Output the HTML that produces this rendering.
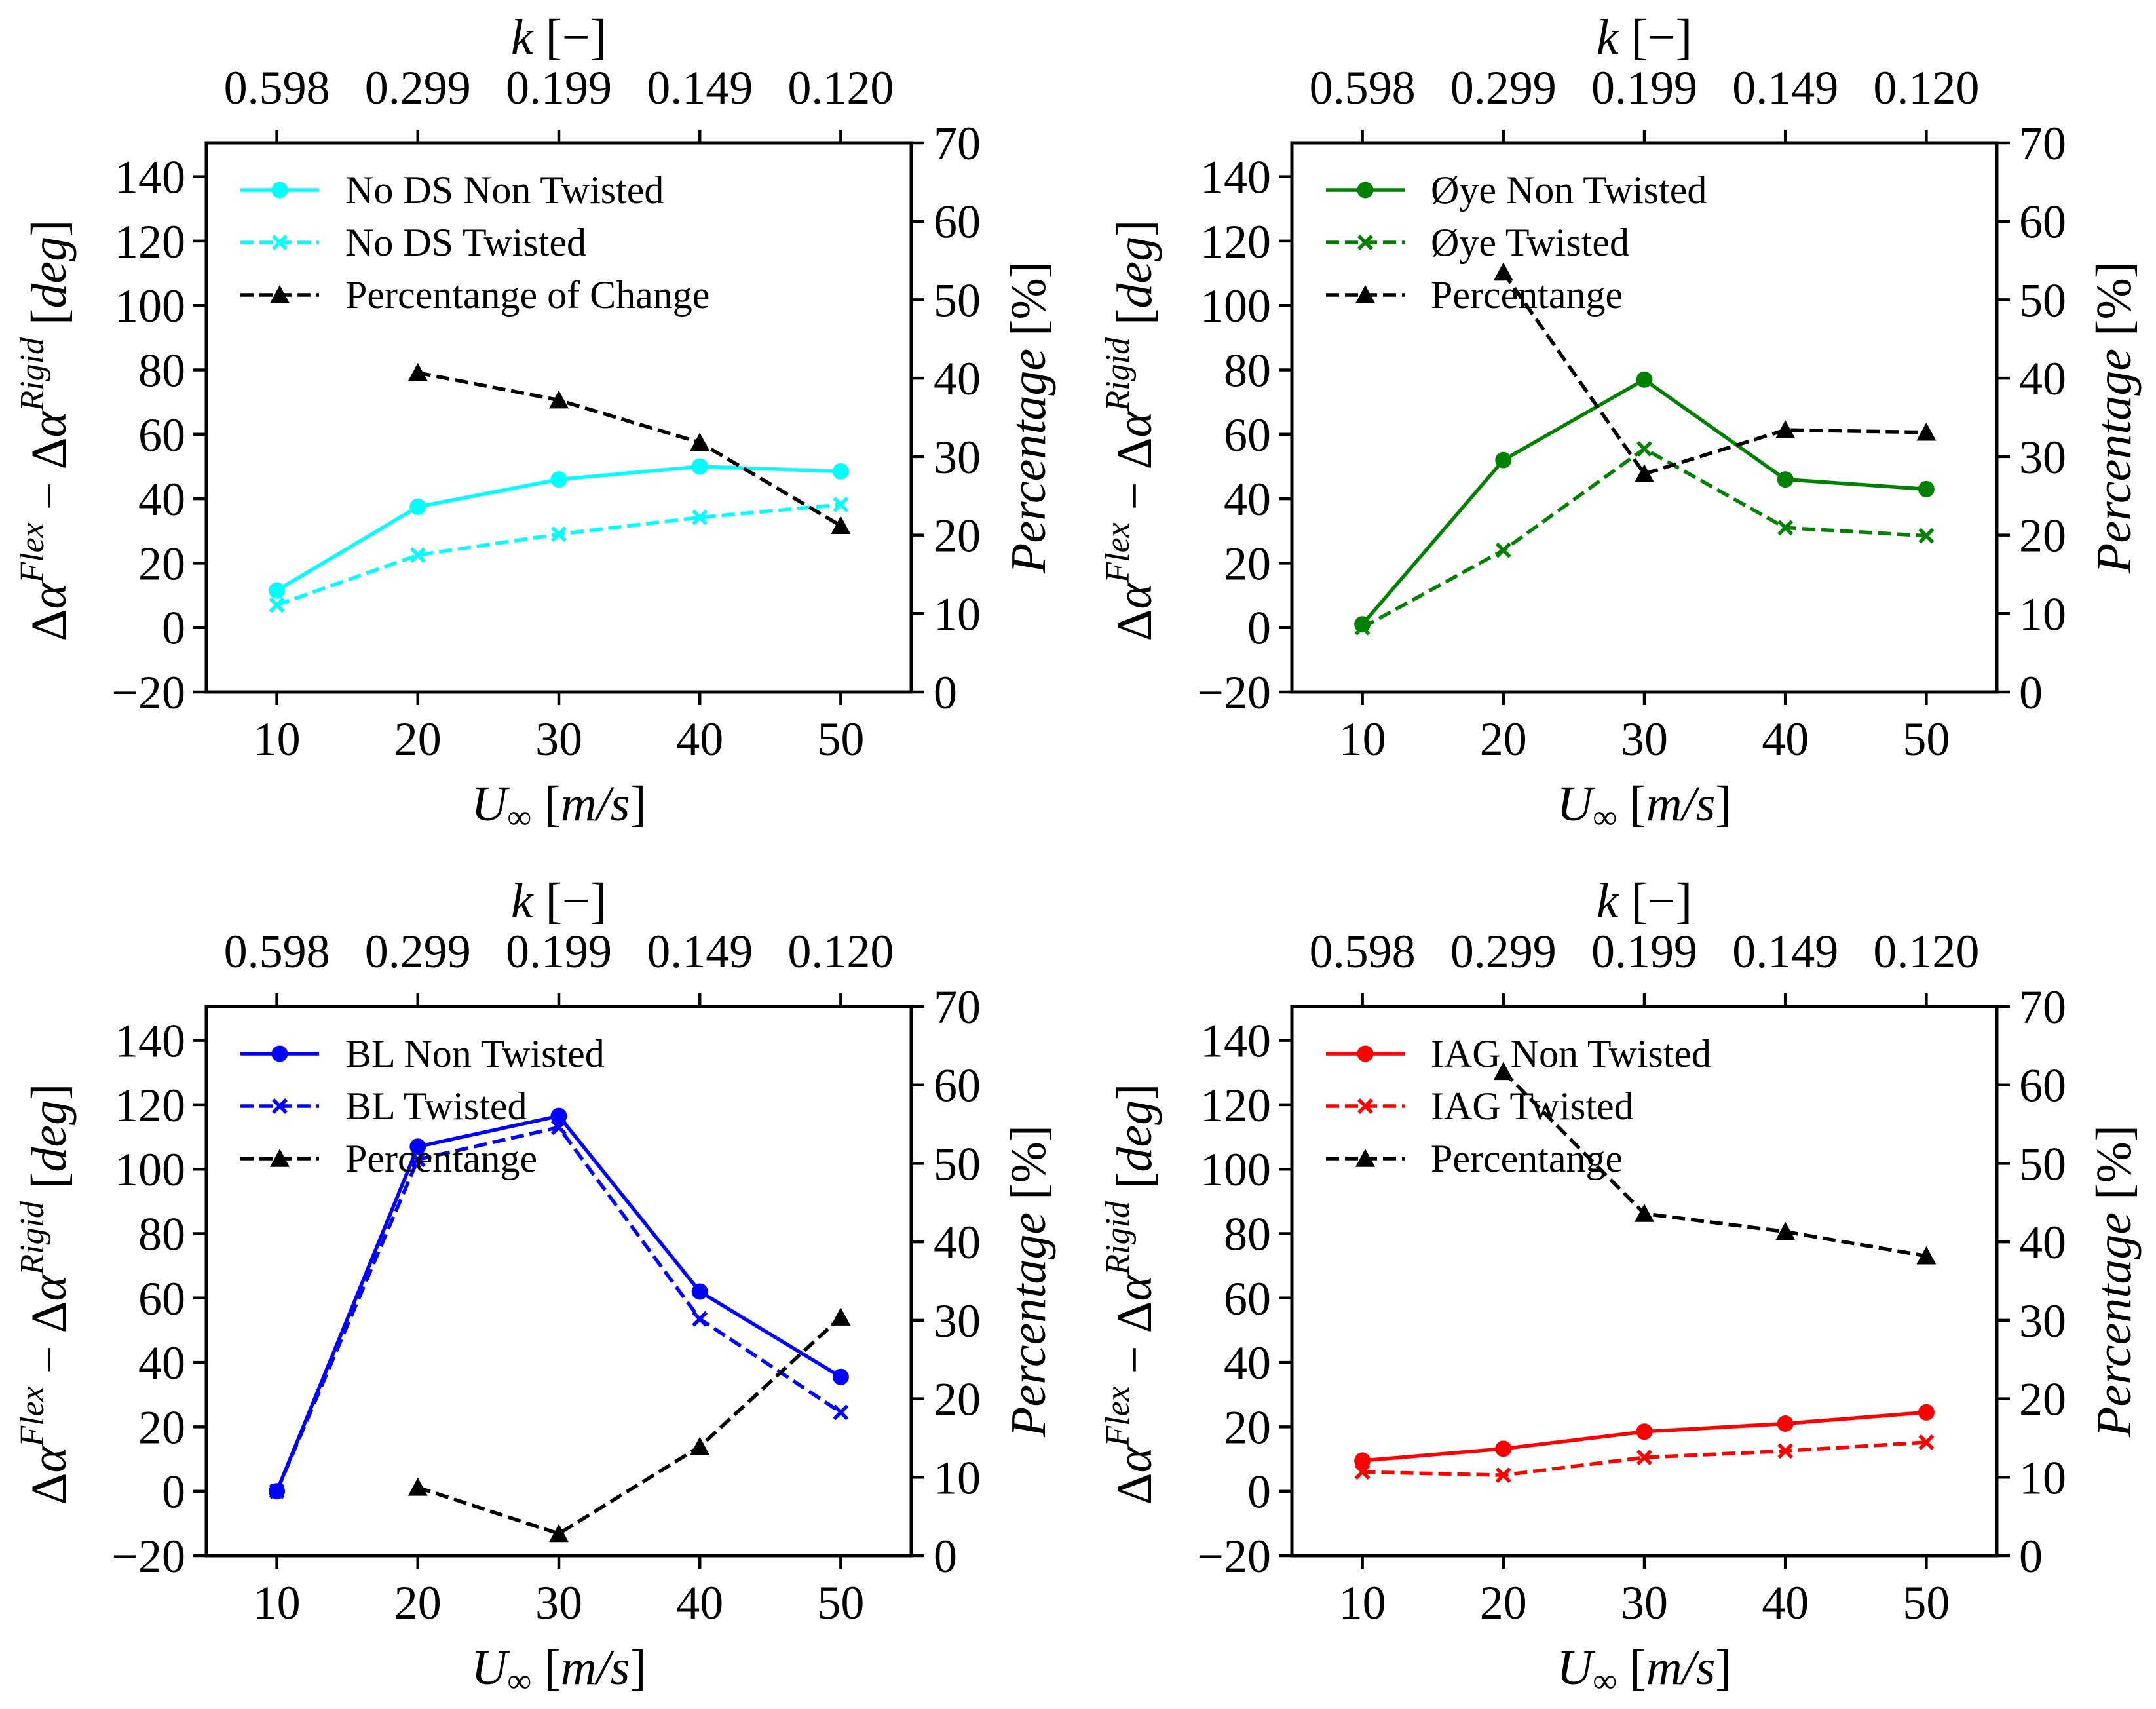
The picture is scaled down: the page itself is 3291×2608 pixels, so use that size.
<!DOCTYPE html>
<html><head><meta charset="utf-8"><style>
html,body{margin:0;padding:0;background:#fff}
svg{display:block}
text{font-family:"Liberation Serif","DejaVu Serif",serif;fill:#000}
</style></head><body>
<svg id="fig" xmlns="http://www.w3.org/2000/svg" width="3291" height="2608" viewBox="0 0 3291 2608"></svg>
<script>
const categories = [10, 20, 30, 40, 50];
const kLabels = ["0.598", "0.299", "0.199", "0.149", "0.120"];
const yTicks = [-20, 0, 20, 40, 60, 80, 100, 120, 140];
const pctTicks = [0, 10, 20, 30, 40, 50, 60, 70];
const pctCategories = [20, 30, 40, 50];

const noDsNon = [11.5, 37.5, 46, 50, 48.5];
const noDsTw = [7, 22.5, 29, 34.2, 38.2];
const noDsPct = [40.7, 37.2, 31.8, 21.2];

const oyeNon = [1, 52, 77, 46, 43];
const oyeTw = [0, 24, 55.5, 31, 28.5];
const oyePct = [53.5, 27.8, 33.4, 33.1];

const blNon = [0, 107, 116.5, 62, 35.5];
const blTw = [0, 103, 113, 53.5, 24.5];
const blPct = [8.7, 2.8, 13.9, 30.4];

const iagNon = [9.5, 13.2, 18.5, 21, 24.5];
const iagTw = [6, 5, 10.5, 12.5, 15.2];
const iagPct = [61.7, 43.6, 41.3, 38.2];

const NS = "http://www.w3.org/2000/svg";
const svg = document.getElementById("fig");
function mk(tag, attrs, parent) {
  const e = document.createElementNS(NS, tag);
  for (const k in attrs) e.setAttribute(k, attrs[k]);
  (parent || svg).appendChild(e);
  return e;
}

const W = 1076, H = 838;
const panels = [
  {x0: 315, y0: 218, color: "#00ffff", non: noDsNon, tw: noDsTw, pct: noDsPct, name: "no-ds",
   labels: ["No DS Non Twisted", "No DS Twisted", "Percentange of Change"]},
  {x0: 1972, y0: 218, color: "#008000", non: oyeNon, tw: oyeTw, pct: oyePct, name: "oye",
   labels: ["Øye Non Twisted", "Øye Twisted", "Percentange"]},
  {x0: 315, y0: 1536, color: "#0000ff", non: blNon, tw: blTw, pct: blPct, name: "bl",
   labels: ["BL Non Twisted", "BL Twisted", "Percentange"]},
  {x0: 1972, y0: 1536, color: "#ff0000", non: iagNon, tw: iagTw, pct: iagPct, name: "iag",
   labels: ["IAG Non Twisted", "IAG Twisted", "Percentange"]}
];

function marker(g, type, cx, cy, color, name) {
  let m;
  if (type === "o") {
    m = mk("circle", {cx: cx, cy: cy, r: 12.5, fill: color}, g);
  } else if (type === "x") {
    const s = 10;
    m = mk("path", {d: `M${cx-s},${cy-s}L${cx+s},${cy+s}M${cx-s},${cy+s}L${cx+s},${cy-s}`, stroke: color, "stroke-width": 5.5, fill: "none"}, g);
  } else {
    const s = 15;
    m = mk("polygon", {points: `${cx},${cy-s} ${cx+s},${cy+s*0.85} ${cx-s},${cy+s*0.85}`, fill: color}, g);
  }
  
  
}

panels.forEach(p => {
  const g = mk("g", {});
  
  
  const xs = v => p.x0 + (v - 5) / 50 * W;
  const ys = v => p.y0 + H - (v + 20) / 170.5 * H;
  const yp = v => p.y0 + H - v / 70 * H;
  const bot = p.y0 + H, right = p.x0 + W;

  yTicks.forEach(t => {
    const y = ys(t);
    mk("line", {x1: p.x0 - 20, x2: p.x0, y1: y, y2: y, stroke: "#000", "stroke-width": 4.5}, g);
    const tx = mk("text", {x: p.x0 - 32, y: y + 25, "font-size": 72, "text-anchor": "end"}, g);
    tx.textContent = t < 0 ? "−" + Math.abs(t) : String(t);
    
    
  });
  pctTicks.forEach(t => {
    const y = yp(t);
    mk("line", {x1: right, x2: right + 20, y1: y, y2: y, stroke: "#000", "stroke-width": 4.5}, g);
    const tx = mk("text", {x: right + 34, y: y + 25, "font-size": 72}, g);
    tx.textContent = String(t);
    
    
  });
  categories.forEach((c, i) => {
    const x = xs(c);
    mk("line", {x1: x, x2: x, y1: bot, y2: bot + 20, stroke: "#000", "stroke-width": 4.5}, g);
    mk("line", {x1: x, x2: x, y1: p.y0 - 20, y2: p.y0, stroke: "#000", "stroke-width": 4.5}, g);
    const tb = mk("text", {x: x, y: bot + 96, "font-size": 72, "text-anchor": "middle"}, g);
    tb.textContent = String(c);
    
    
    const tt = mk("text", {x: x, y: p.y0 - 60, "font-size": 72, "text-anchor": "middle"}, g);
    tt.textContent = kLabels[i];
    
    
  });

  const cx = p.x0 + W / 2;
  const xl = mk("text", {x: cx, y: bot + 196, "font-size": 76, "text-anchor": "middle"}, g);
  xl.innerHTML = '<tspan font-style="italic">U</tspan><tspan font-size="52" dy="12">∞</tspan><tspan dy="-12"> [</tspan><tspan font-style="italic">m/s</tspan>]';
  
  
  const kl = mk("text", {x: cx, y: p.y0 - 136, "font-size": 76, "text-anchor": "middle"}, g);
  kl.innerHTML = '<tspan font-style="italic">k</tspan> [−]';
  
  
  const cy = p.y0 + H / 2 + 20;
  const yl = mk("text", {x: 0, y: 0, "font-size": 76, "text-anchor": "middle", transform: `translate(${p.x0 - 215},${cy}) rotate(-90)`}, g);
  yl.innerHTML = 'Δ<tspan font-style="italic">α</tspan><tspan font-size="52" font-style="italic" dy="-34">Flex</tspan><tspan dy="34"> − Δ</tspan><tspan font-style="italic">α</tspan><tspan font-size="52" font-style="italic" dy="-34">Rigid</tspan><tspan dy="34"> [</tspan><tspan font-style="italic">deg</tspan>]';
  
  
  const pl = mk("text", {x: 0, y: 0, "font-size": 76, "text-anchor": "middle", transform: `translate(${right + 204},${p.y0 + H/2}) rotate(-90)`}, g);
  pl.innerHTML = '<tspan font-style="italic">Percentage</tspan> [%]';
  
  

  const ptsNon = categories.map((c, i) => `${xs(c)},${ys(p.non[i])}`).join(" ");
  const ptsTw = categories.map((c, i) => `${xs(c)},${ys(p.tw[i])}`).join(" ");
  const ptsPct = pctCategories.map((c, i) => `${xs(c)},${yp(p.pct[i])}`).join(" ");
  const l1 = mk("polyline", {points: ptsNon, fill: "none", stroke: p.color, "stroke-width": 5.5, "stroke-linejoin": "round"}, g);
  
  
  categories.forEach((c, i) => marker(g, "o", xs(c), ys(p.non[i]), p.color, 'non-twisted-point'));
  const l2 = mk("polyline", {points: ptsTw, fill: "none", stroke: p.color, "stroke-width": 5.5, "stroke-dasharray": "20 9"}, g);
  
  
  categories.forEach((c, i) => marker(g, "x", xs(c), ys(p.tw[i]), p.color, 'twisted-point'));
  const l3 = mk("polyline", {points: ptsPct, fill: "none", stroke: "#000", "stroke-width": 5.5, "stroke-dasharray": "20 9"}, g);
  
  
  pctCategories.forEach((c, i) => marker(g, "^", xs(c), yp(p.pct[i]), "#000", 'percentage-point'));

  const lg = mk("g", {}, g);
  
  
  const styles = [[p.color, null, "o"], [p.color, "20 9", "x"], ["#000", "20 9", "^"]];
  styles.forEach((s, i) => {
    const y = p.y0 + 72 + i * 80;
    const a = {x1: p.x0 + 52, x2: p.x0 + 172, y1: y, y2: y, stroke: s[0], "stroke-width": 5.5};
    if (s[1]) a["stroke-dasharray"] = s[1];
    mk("line", a, lg);
    marker(lg, s[2], p.x0 + 112, y, s[0], 'legend-marker');
    const t = mk("text", {x: p.x0 + 212, y: y + 20, "font-size": 60}, lg);
    t.textContent = p.labels[i];
    
    
  });

  const fr = mk("rect", {x: p.x0, y: p.y0, width: W, height: H, fill: "none", stroke: "#000", "stroke-width": 5}, g);
  
  
});
</script>
</body></html>
